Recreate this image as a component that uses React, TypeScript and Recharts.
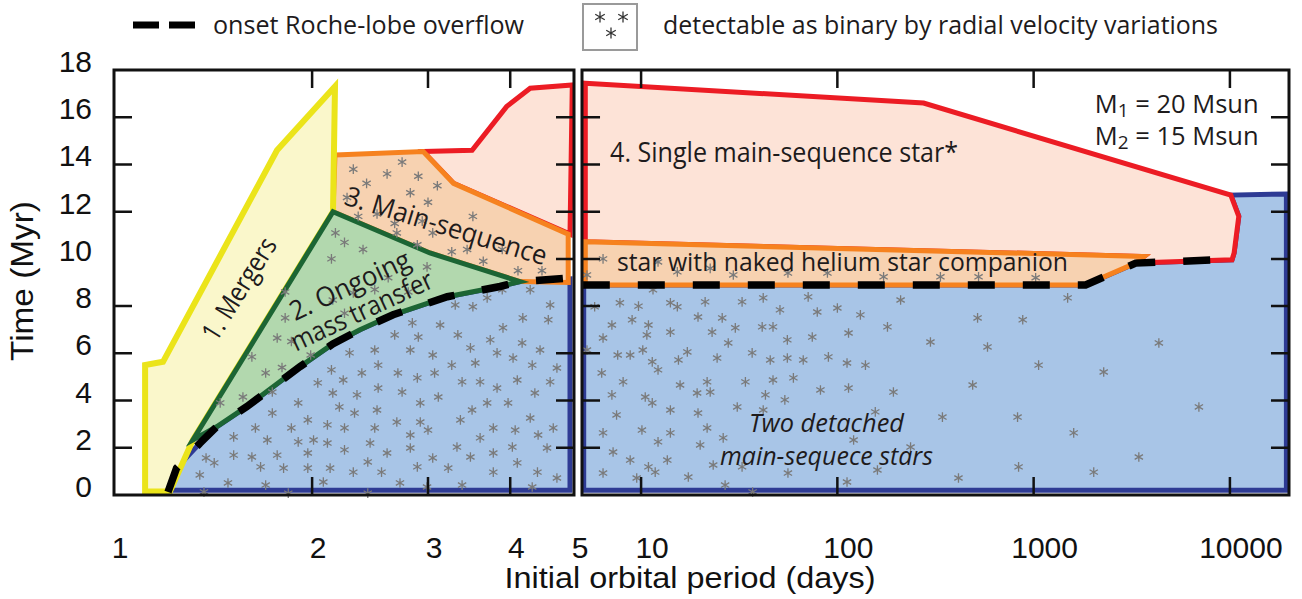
import React from 'react';
import { ScatterChart, Scatter, XAxis, YAxis } from 'recharts';

const AXIS_FONT = "'Liberation Sans', Arial, Helvetica, sans-serif";
const TEXT_FONT = "'Open Sans', 'Noto Sans', sans-serif";

const BLUE = '#a8c5e7';
const NAVY = '#2e3b94';
const PINK = '#fde3d7';
const RED = '#ec1c24';
const PEACH = '#f7d2b1';
const ORANGE = '#f6821f';
const GREEN = '#b2d8ae';
const DKGREEN = '#1c6534';
const CREAM = '#faf7cb';
const YELLOW = '#ebe41a';
const STAR = '#7a7a7a';

type Pt = [number, number];

// x = initial orbital period (days, log), y = time (Myr)
const periodTicksLeft = [1, 2, 3, 4, 5];
const periodTicksRight = [10, 100, 1000, 10000];
const timeTicks = [0, 2, 4, 6, 8, 10, 12, 14, 16, 18];

// onset of Roche-lobe overflow
const rlofLeft: Pt[] = [
  [1.208, 0.13], [1.245, 1.14], [1.351, 2.2], [1.432, 2.89], [1.591, 3.74], [1.918, 5.44],
  [2.15, 6.4], [2.365, 7.0], [2.655, 7.63], [3.21, 8.4], [3.86, 8.83], [4.14, 9.04], [4.97, 9.2],
];
const rlofRight: Pt[] = [[5.05, 8.9], [1840, 8.9], [3310, 9.82], [8650, 9.96]];

// regions, 1-5 d panel
const mergersLeft: Pt[] = [
  [1.115, 0.15], [1.115, 5.5], [1.187, 5.64], [1.769, 14.6], [2.167, 17.3], [2.152, 12.0], [1.318, 2.33], [1.216, 0.15],
];
const ongoingLeft: Pt[] = [
  [2.152, 12.0], [3.02, 10.25], [4.14, 9.04], [3.86, 8.83], [3.21, 8.4], [2.655, 7.63], [2.365, 7.0],
  [2.15, 6.4], [1.918, 5.44], [1.591, 3.74], [1.432, 2.89], [1.318, 2.33],
];
const companionLeft: Pt[] = [
  [2.167, 14.4], [2.95, 14.55], [3.28, 13.2], [4.9, 11.05], [4.9, 9.0], [4.14, 9.04], [3.02, 10.25], [2.152, 12.0],
];
const singleLeft: Pt[] = [
  [2.95, 14.55], [3.5, 14.6], [3.95, 16.45], [4.29, 17.23], [4.97, 17.37], [4.93, 11.05], [3.28, 13.2],
];
const detachedLeft: Pt[] = [
  [1.208, 0.2], [1.245, 1.14], [1.351, 2.2], [1.432, 2.89], [1.591, 3.74], [1.918, 5.44], [2.15, 6.4],
  [2.365, 7.0], [2.655, 7.63], [3.21, 8.4], [3.86, 8.83], [4.14, 9.04], [4.93, 9.15], [4.93, 0.2],
];

// regions, 5-20000 d panel
const detachedRight: Pt[] = [
  [5.1, 0.2], [5.1, 8.9], [1840, 8.9], [3310, 9.82], [10250, 9.96], [10500, 10.25], [11100, 11.8],
  [10100, 12.7], [19400, 12.75], [19400, 0.2],
];
const singleRight: Pt[] = [
  [5.2, 17.44], [275, 16.6], [10100, 12.7], [11100, 11.8], [10500, 10.25], [10250, 9.96], [3310, 9.82],
  [3650, 10.1], [5.2, 10.73],
];
const companionRight: Pt[] = [[5.2, 10.73], [3650, 10.1], [3310, 9.82], [1840, 8.9], [5.2, 8.9]];

// systems detectable as binary by radial velocity variations
const rvLeft: Pt[] = [
  [2.17, 11.1], [2.24, 10.7], [2.14, 10.0], [2.39, 10.4], [2.61, 9.2], [2.99, 9.66], [2.49, 8.7], [2.31, 8.56],
  [2.15, 8.26], [2.8, 8.6], [2.24, 7.7], [1.82, 8.6], [1.82, 7.5], [1.77, 6.65], [1.86, 6.5], [1.62, 5.85],
  [1.7, 5.17], [1.8, 5.4], [1.99, 5.93], [1.57, 4.15], [1.45, 3.9], [1.74, 4.36],
  [2.31, 13.8], [2.6, 13.6], [2.74, 14.1], [2.9, 13.5], [2.42, 13.2], [2.26, 12.6], [2.82, 12.8], [3.1, 13.1],
  [3.0, 12.4], [2.35, 11.8], [2.51, 11.9], [2.67, 11.5], [2.94, 11.6], [3.05, 11.1], [3.51, 11.8], [2.69, 11.1],
  [2.89, 10.6], [3.26, 10.3], [3.44, 10.4], [3.89, 10.4], [3.64, 9.9], [4.11, 9.5], [4.47, 9.5],
  [2.04, 4.75], [1.905, 3.9], [1.74, 3.47], [1.64, 2.84], [1.86, 2.84], [1.97, 3.18], [1.52, 2.46], [1.71, 2.33],
  [1.905, 2.25], [2.01, 2.33], [1.38, 1.57], [1.42, 1.36], [1.52, 1.69], [1.62, 1.61], [1.77, 1.69], [1.97, 1.78],
  [1.67, 1.19], [1.81, 1.14], [1.97, 1.14], [1.35, 0.85], [1.49, 0.51], [1.7, 0.42], [2.08, 0.55], [1.37, 0.13],
  [1.84, 0.08],
  [3.89, 8.69], [4.29, 8.69], [4.6, 8.05], [3.51, 7.97], [3.3, 8.05], [3.69, 8.35], [4.18, 7.5], [3.9, 7.08],
  [4.57, 7.42], [2.84, 7.29], [3.13, 7.2], [2.67, 6.78], [2.9, 6.69], [3.33, 6.78], [3.73, 6.57], [4.17, 6.44],
  [2.49, 6.14], [2.82, 6.14], [3.05, 5.93], [3.48, 6.23], [3.82, 6.02], [4.04, 5.8], [4.44, 6.14], [2.28, 6.02],
  [2.14, 5.3], [2.38, 5.17], [2.52, 5.5], [2.7, 5.17], [2.89, 4.96], [3.07, 5.17], [3.26, 5.5], [3.54, 5.59],
  [4.32, 5.5], [4.71, 5.38], [2.23, 4.87], [3.38, 4.79], [3.6, 4.79], [3.82, 4.53], [4.1, 4.87], [4.6, 4.79],
  [2.15, 4.32], [2.34, 4.24], [2.52, 4.53], [2.74, 4.36], [3.11, 4.15], [4.36, 4.32], [3.69, 3.9], [3.97, 3.9],
  [2.2, 3.73], [2.92, 3.9], [3.5, 3.6], [2.32, 3.47], [2.51, 3.6], [2.11, 2.97], [2.69, 3.09], [2.92, 3.09],
  [3.36, 3.18], [4.29, 3.26], [2.24, 2.84], [2.49, 2.84], [3.0, 2.75], [3.77, 2.84], [4.07, 2.75], [4.65, 2.84],
  [2.82, 2.54], [3.6, 2.42], [4.41, 2.54], [2.11, 2.2], [2.45, 2.2], [3.32, 2.03], [4.03, 2.03], [2.24, 1.91],
  [2.82, 1.99], [3.48, 1.61], [3.77, 1.78], [4.55, 1.99], [2.6, 1.78], [2.43, 1.4], [3.05, 1.57], [4.1, 1.36],
  [2.13, 1.14], [2.31, 0.97], [2.55, 0.97], [2.89, 1.19], [3.22, 1.14], [3.77, 0.97], [4.4, 0.97], [4.71, 0.72],
  [2.72, 0.51], [3.38, 0.42], [2.99, 0.34], [4.32, 0.34], [2.43, 0.08],
];
const rvRight: Pt[] = [
  [6.4, 10.0], [12.2, 9.87], [15.3, 9.45], [22.5, 9.6], [29.5, 9.32], [56, 9.4], [89, 9.4], [172, 9.24],
  [5.3, 9.32], [335, 9.24], [524, 9.24], [1024, 9.2],
  [11.5, 8.69], [5.8, 7.97], [7.8, 8.14], [9.7, 8.0], [14.1, 8.14], [15.3, 7.97], [21.2, 8.18], [32.7, 8.18],
  [41.9, 8.35], [71, 8.39], [210, 8.26], [51, 7.84], [79, 7.75], [100, 7.92], [131, 7.63], [7.1, 7.2],
  [9.0, 7.42], [10.9, 7.2], [19.5, 7.54], [25.9, 7.5], [14.1, 6.9], [23, 6.9], [30.2, 7.08], [41.4, 7.12],
  [47, 7.12], [180, 7.12], [6.4, 6.65], [10.7, 6.78], [27.8, 6.44], [55.6, 6.57], [74.5, 6.69], [114, 6.86],
  [298, 6.48], [5.3, 6.14], [7.6, 5.93], [8.8, 5.93], [10.2, 6.14], [11.4, 5.64], [17.2, 6.06], [15.5, 5.72],
  [24.4, 5.8], [36.8, 6.02], [45.5, 5.72], [55.6, 5.8], [67, 5.72], [90, 5.85], [112, 5.59], [139, 5.5],
  [6.3, 5.17], [12.2, 5.3], [8.1, 4.79], [15.8, 4.66], [21.7, 4.79], [34, 4.79], [47, 4.87], [59.7, 4.96],
  [7.1, 4.24], [10.5, 4.15], [11.4, 3.9], [19.3, 4.32], [22.5, 4.36], [43, 4.24], [54, 4.03], [82, 4.45],
  [114, 4.53], [193, 4.36], [7.5, 3.39], [14.1, 3.6], [19.5, 3.47], [30.9, 3.73], [41.9, 3.6], [156, 3.52],
  [6.4, 2.63], [10.1, 2.75], [12.2, 2.25], [14.1, 2.63], [21.7, 2.84], [26.2, 2.42], [20, 2.12], [121, 2.33],
  [236, 2.03], [7.2, 1.82], [8.8, 1.48], [10.9, 1.19], [11.8, 0.97], [13.6, 1.48], [17.4, 0.76], [23.3, 1.27],
  [32.7, 1.19], [56, 0.93], [160, 1.06], [6.4, 0.93], [9.5, 0.72], [26.8, 0.42], [37, 0.13], [112, 0.55],
  [1490, 8.35], [518, 7.5], [880, 7.42], [582, 6.27], [4345, 6.44], [1060, 5.5], [2275, 5.21], [489, 4.66],
  [343, 3.3], [828, 3.3], [6950, 3.73], [1600, 2.63], [3435, 1.61], [838, 1.19], [2024, 0.97], [414, 0.72],
];

const labelsLeft = [
  { id: 'mergers', x: 1.549, y: 8.73, lines: ['1. Mergers'] },
  { id: 'ongoing', x: 2.33, y: 8.35, lines: ['2. Ongoing', 'mass transfer'] },
  { id: 'mainseq', x: 3.196, y: 11.4, lines: ['3. Main-sequence'] },
];
const labelsRight = [
  { id: 'single', x: 6.95, y: 14.1, lines: ['4.  Single main-sequence star*'] },
  { id: 'companion', x: 7.54, y: 9.49, lines: ['star with naked helium star companion'] },
  { id: 'detached', x: 88, y: 2.67, lines: ['Two detached', 'main-sequece stars'] },
];
const massLabels = [
  { x: 2050, y: 16.19, index: '1', mass: '20' },
  { x: 2050, y: 14.83, index: '2', mass: '15' },
];

const labelStyle: Record<string, any> = {
  mergers: { angle: -58, size: 27, anchor: 'middle', center: true, gap: 0, lens: [116] },
  ongoing: { angle: -25, size: 27, anchor: 'middle', center: true, gap: 28, lens: [130, 154] },
  mainseq: { angle: 17, size: 27, anchor: 'middle', center: true, gap: 0, lens: [210] },
  single: { angle: 0, size: 27, anchor: 'start', center: false, gap: 0, lens: [348] },
  companion: { angle: 0, size: 26, anchor: 'start', center: false, gap: 0, lens: [451] },
  detached: { angle: 0, size: 26, anchor: 'middle', center: false, gap: 33, lens: [155, 213], italic: true },
};

const toXY = (pts: Pt[]) => pts.map(([x, y]) => ({ x, y }));

// tick marks point inward; ~18px expressed as a factor (x, log) or offset (y) in data units
const innerTicks = (xs: number[], x0: number, x1: number, k: number, skipL: number[], skipR: number[]) => {
  const out: Pt[] = [];
  xs.forEach((p) => { out.push([p, 0], [p, 0.76], [p, 18], [p, 17.24]); });
  timeTicks.slice(1, -1).forEach((t) => {
    if (!skipL.includes(t)) out.push([x0, t], [x0 * k, t]);
    if (!skipR.includes(t)) out.push([x1, t], [x1 / k, t]);
  });
  return out;
};
const ticksLeft = innerTicks([2, 3, 4], 1, 5, 1.065, [10], [8]);
const ticksRight = innerTicks(periodTicksRight, 5, 20000, 1.2355, [], []);
const frameLeft: Pt[] = [[1, 0], [5, 0], [5, 18], [1, 18]];
const frameRight: Pt[] = [[5, 0], [20000, 0], [20000, 18], [5, 18]];

const Empty = () => <g />;

const pathOf = (pts: any[], close: boolean) =>
  pts.map((q, i) => `${i ? 'L' : 'M'}${q.x.toFixed(1)},${q.y.toFixed(1)}`).join('') + (close ? 'Z' : '');

const polygon = (fill: string, stroke: string, width: number) => (p: any) => (
  <path d={pathOf(p.points || [], true)} fill={fill} stroke={stroke} strokeWidth={width} strokeLinejoin="miter" strokeMiterlimit={4} />
);

const dashed = (p: any) => (
  <path d={pathOf(p.points || [], false)} fill="none" stroke="#000" strokeWidth={7.5} strokeDasharray="27 28" />
);

const segments = (p: any) => {
  const pts = p.points || [];
  let d = '';
  for (let i = 0; i + 1 < pts.length; i += 2) d += `M${pts[i].x},${pts[i].y}L${pts[i + 1].x},${pts[i + 1].y}`;
  return <path d={d} fill="none" stroke="#111" strokeWidth={2.5} />;
};

const Asterisk = (p: any) => {
  const { cx, cy, color = STAR, r = 4.8 } = p;
  const h = r * 0.866;
  const v = r * 0.5;
  return (
    <path
      d={`M${cx},${cy - r}V${cy + r}M${cx - h},${cy - v}L${cx + h},${cy + v}M${cx - h},${cy + v}L${cx + h},${cy - v}`}
      stroke={color}
      strokeWidth={1.3}
      fill="none"
    />
  );
};

const RegionLabel = (p: any) => {
  const { cx, cy, payload } = p;
  const s = labelStyle[payload.id];
  const n = payload.lines.length;
  return (
    <g transform={`translate(${cx},${cy}) rotate(${s.angle})`}>
      {payload.lines.map((t: string, i: number) => (
        <text
          key={i}
          x={0}
          y={s.center ? (i - (n - 1) / 2) * s.gap : i * s.gap}
          dy={s.center ? '0.35em' : 0}
          textAnchor={s.anchor}
          fontSize={s.size}
          fontStyle={s.italic ? 'italic' : 'normal'}
          fontFamily={TEXT_FONT}
          fill="#1e1b1c"
          textLength={s.lens[i]}
          lengthAdjust="spacingAndGlyphs"
        >
          {t}
        </text>
      ))}
    </g>
  );
};

const MassLabel = (p: any) => {
  const { cx, cy, payload } = p;
  return (
    <text x={cx} y={cy} fontSize={25.5} fontFamily={TEXT_FONT} fill="#1e1b1c">
      {'M'}
      <tspan fontSize={19} baselineShift="-22%">{payload.index}</tspan>
      {` = ${payload.mass} Msun`}
    </text>
  );
};

const PeriodTick = (p: any) => (
  <text x={p.x + p.shift} y={p.y + 63} textAnchor="middle" fontSize={30} fontFamily={AXIS_FONT} fill="#111">
    {p.payload.value}
  </text>
);

const TimeTick = (p: any) => (
  <text x={p.x - 22} y={p.y + 2} textAnchor="end" fontSize={30} fontFamily={AXIS_FONT} fill="#111">
    {p.payload.value}
  </text>
);

const noAnim = { isAnimationActive: false };

export default function App() {
  return (
    <div style={{ position: 'absolute', left: 0, top: 0, width: 1302, height: 599, background: '#fff', overflow: 'hidden' }}>
      <div style={{ position: 'absolute', left: 0, top: 0 }}>
        <ScatterChart width={590} height={599} margin={{ top: 70, right: 16, bottom: 74, left: 54 }}>
          <XAxis dataKey="x" type="number" scale="log" domain={[1, 5]} ticks={periodTicksLeft} interval={0}
            tickLine={false} axisLine={false} tickSize={0} tickMargin={0} height={30} tick={<PeriodTick shift={6} />} />
          <YAxis dataKey="y" type="number" domain={[0, 18]} ticks={timeTicks} interval={0}
            tickLine={false} axisLine={false} tickSize={0} tickMargin={0} width={60} tick={<TimeTick />} />
          <Scatter data={toXY(detachedLeft)} line={polygon(BLUE, NAVY, 5)} shape={Empty} {...noAnim} />
          <Scatter data={toXY(singleLeft)} line={polygon(PINK, RED, 5)} shape={Empty} {...noAnim} />
          <Scatter data={toXY(companionLeft)} line={polygon(PEACH, ORANGE, 5)} shape={Empty} {...noAnim} />
          <Scatter data={toXY(mergersLeft)} line={polygon(CREAM, YELLOW, 6)} shape={Empty} {...noAnim} />
          <Scatter data={toXY(ongoingLeft)} line={polygon(GREEN, DKGREEN, 5)} shape={Empty} {...noAnim} />
          <Scatter data={toXY(rvLeft)} shape={Asterisk} {...noAnim} />
          <Scatter data={toXY(rlofLeft)} line={dashed} shape={Empty} {...noAnim} />
          <Scatter data={labelsLeft} shape={RegionLabel} {...noAnim} />
          <Scatter data={toXY(frameLeft)} line={polygon('none', '#111', 3)} shape={Empty} {...noAnim} />
          <Scatter data={toXY(ticksLeft)} line={segments} shape={Empty} {...noAnim} />
        </ScatterChart>
      </div>
      <div style={{ position: 'absolute', left: 560, top: 0 }}>
        <ScatterChart width={742} height={599} margin={{ top: 70, right: 13, bottom: 74, left: 22 }}>
          <XAxis dataKey="x" type="number" scale="log" domain={[5, 20000]} ticks={periodTicksRight} interval={0}
            tickLine={false} axisLine={false} tickSize={0} tickMargin={0} height={30} tick={<PeriodTick shift={11} />} />
          <YAxis hide dataKey="y" type="number" domain={[0, 18]} />
          <Scatter data={toXY(detachedRight)} line={polygon(BLUE, NAVY, 5)} shape={Empty} {...noAnim} />
          <Scatter data={toXY(singleRight)} line={polygon(PINK, RED, 5)} shape={Empty} {...noAnim} />
          <Scatter data={toXY(companionRight)} line={polygon(PEACH, ORANGE, 5)} shape={Empty} {...noAnim} />
          <Scatter data={toXY(rvRight)} shape={Asterisk} {...noAnim} />
          <Scatter data={toXY(rlofRight)} line={dashed} shape={Empty} {...noAnim} />
          <Scatter data={labelsRight} shape={RegionLabel} {...noAnim} />
          <Scatter data={massLabels} shape={MassLabel} {...noAnim} />
          <Scatter data={toXY(frameRight)} line={polygon('none', '#111', 3)} shape={Empty} {...noAnim} />
          <Scatter data={toXY(ticksRight)} line={segments} shape={Empty} {...noAnim} />
        </ScatterChart>
      </div>
      <svg width={1302} height={599} style={{ position: 'absolute', left: 0, top: 0, pointerEvents: 'none' }}>
        <line x1={133} y1={25} x2={196} y2={25} stroke="#000" strokeWidth={7} strokeDasharray="26 10" />
        <text x={213} y={34} fontSize={26} fontFamily={TEXT_FONT} fill="#1e1b1c" textLength={311} lengthAdjust="spacingAndGlyphs">
          onset Roche-lobe overflow
        </text>
        <rect x={583} y={4} width={54} height={46} fill="#fff" stroke="#9a9a9a" strokeWidth={2} />
        {[[600, 17], [623, 17], [611, 33]].map(([x, y], i) => (
          <Asterisk key={i} cx={x} cy={y} r={5.5} color="#333" />
        ))}
        <text x={663} y={34} fontSize={26} fontFamily={TEXT_FONT} fill="#1e1b1c" textLength={555} lengthAdjust="spacingAndGlyphs">
          detectable as binary by radial velocity variations
        </text>
        <text transform="translate(33,281) rotate(-90)" textAnchor="middle" fontSize={31} fontFamily={AXIS_FONT} fill="#111" textLength={160} lengthAdjust="spacingAndGlyphs">
          Time (Myr)
        </text>
        <text x={690} y={588} textAnchor="middle" fontSize={29} fontFamily={AXIS_FONT} fill="#111" textLength={371} lengthAdjust="spacingAndGlyphs">
          Initial orbital period (days)
        </text>
      </svg>
    </div>
  );
}
